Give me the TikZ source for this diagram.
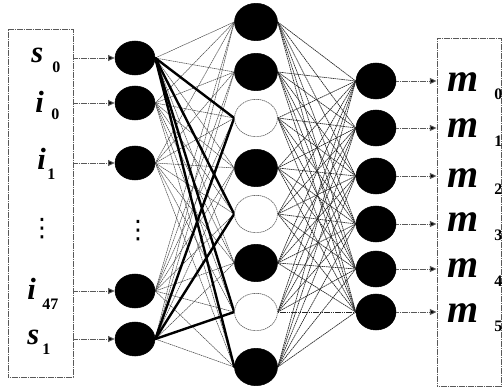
\documentclass[tikz,border=0pt]{standalone}
\usepackage{fontspec}
\setmainfont{Liberation Serif}
\newfontfamily\dotsfont{DejaVu Sans}
\usetikzlibrary{arrows.meta,shapes.geometric,backgrounds}
\begin{document}
\begin{tikzpicture}[x=0.75pt,y=-0.75pt,
  blk/.style={ellipse,draw=black,fill=black,inner sep=0pt},
  inneuron/.style={blk,minimum width=30pt,minimum height=25.5pt},
  hidneuron/.style={blk,minimum width=32.25pt,minimum height=28pt},
  hidempty/.style={ellipse,inner sep=0pt,minimum width=32.25pt,minimum height=28pt,draw=black!60,fill=white,line width=0.5pt,dash pattern=on 1pt off 0.5pt},
  outneuron/.style={blk,minimum width=30pt,minimum height=27pt},
  frame/.style={draw=black!65,line width=0.7pt,dash pattern=on 1pt off 0.35pt,inner sep=0pt},
  conn/.style={draw=black!72,line width=0.4pt,dash pattern=on 1.2pt off 0.45pt},
  conndark/.style={draw=black!85,line width=0.5pt,dash pattern=on 1.2pt off 0.45pt},
  heavy/.style={draw=black,line width=1.8pt,line cap=round},
  feed/.style={draw=black!65,line width=0.7pt,dash pattern=on 1pt off 0.35pt,-{Triangle[length=5pt,width=4.5pt,fill=black]}},
  lett/.style={inner sep=0pt,anchor=base west,font=\fontsize{23}{25}\selectfont\bfseries\itshape},
  mlett/.style={inner sep=0pt,anchor=base west,font=\fontsize{30}{32}\selectfont\bfseries\itshape},
  subs/.style={inner sep=0pt,anchor=base west,font=\fontsize{12}{13}\selectfont\bfseries},
  vdotsnode/.style={inner sep=0pt,font=\fontsize{19}{20}\selectfont\dotsfont}
]
\useasboundingbox (0,0) rectangle (502,388);

% frames
\node[frame,minimum width=48.75pt,minimum height=261pt] (lbox) at (40.5,203) {};
\node[frame,minimum width=48pt,minimum height=261pt] (rbox) at (469,212) {};

% input layer
\node[inneuron] (L0) at (135,58) {};
\node[inneuron] (L1) at (135,103) {};
\node[inneuron] (L2) at (135,163) {};
\node[inneuron] (L3) at (135,291) {};
\node[inneuron] (L4) at (135,339) {};
\node[vdotsnode] (ldots) at (138,231) {⋮};

% hidden layer
\node[hidneuron] (M1) at (256,22) {};
\node[hidneuron] (M2) at (256,72) {};
\node[hidempty]  (M3) at (256,118) {};
\node[hidneuron] (M4) at (256,168) {};
\node[hidempty]  (M5) at (256,214) {};
\node[hidneuron] (M6) at (256,263) {};
\node[hidempty]  (M7) at (256,312) {};
\node[hidneuron] (M8) at (256,367) {};

% output layer
\node[outneuron] (R1) at (376,81) {};
\node[outneuron] (R2) at (376,128) {};
\node[outneuron] (R3) at (376,176) {};
\node[outneuron] (R4) at (376,224) {};
\node[outneuron] (R5) at (376,269) {};
\node[outneuron] (R6) at (376,312) {};

\begin{scope}[on background layer]
  \foreach \a in {L0,L1,L2,L3,L4}
    \foreach \b in {M1,M2,M3,M4,M5,M6,M7,M8}
      \draw[conn] (\a.east) -- (\b.west);
  \foreach \a in {M1,M2,M3,M4,M5,M6,M7,M8}
    \foreach \b in {R1,R2,R3,R4,R5,R6}
      \draw[conndark] (\a.east) -- (\b.west);
  \draw[heavy] (L0.east) -- (M3.west);
  \draw[heavy] (L0.east) -- (M5.west);
  \draw[heavy] (L0.east) -- (M7.west);
  \draw[heavy] (L0.east) -- (M8.west);
  \draw[heavy] (L4.east) -- (M3.west);
  \draw[heavy] (L4.east) -- (M5.west);
  \draw[heavy] (L4.east) -- (M7.west);
\end{scope}

% input arrows
\foreach \n in {L0,L1,L2,L3,L4}
  \draw[feed] (lbox.east |- \n.center) -- (\n.west);
% output arrows
\foreach \n in {R1,R2,R3,R4,R5,R6}
  \draw[feed] (\n.east) -- (rbox.west |- \n.center);

% input labels
\node[lett] (ts0) at (31,63) {s};
\node[subs] (us0) at (52,73) {0};
\node[lett] (ti0) at (35,113) {i};
\node[subs] (ui0) at (51,120) {0};
\node[lett] (ti1) at (37,170) {i};
\node[subs] (ui1) at (47,180) {1};
\node[vdotsnode] (bdots) at (42,229) {⋮};
\node[lett] (ti47) at (27,299) {i};
\node[subs] (ui47) at (42,309) {47};
\node[lett] (ts1) at (27,344) {s};
\node[subs] (us1) at (42,354) {1};

% output labels
\node[mlett] (tm0) at (447,92) {m};
\node[subs] (um0) at (494,100) {0};
\node[mlett] (tm1) at (447,138) {m};
\node[subs] (um1) at (494,147) {1};
\node[mlett] (tm2) at (447,187) {m};
\node[subs] (um2) at (494,195) {2};
\node[mlett] (tm3) at (447,231) {m};
\node[subs] (um3) at (494,240) {3};
\node[mlett] (tm4) at (447,277) {m};
\node[subs] (um4) at (494,286) {4};
\node[mlett] (tm5) at (447,322) {m};
\node[subs] (um5) at (494,331) {5};
\end{tikzpicture}
\end{document}
